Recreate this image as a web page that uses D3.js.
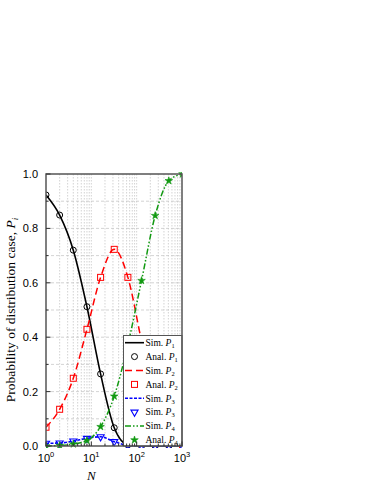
<!DOCTYPE html>
<html><head><meta charset="utf-8">
<script src="https://cdn.jsdelivr.net/npm/d3@7"></script>
<style>html,body{margin:0;padding:0;background:#fff;}svg{display:block;}</style>
</head><body>
<svg id="c" width="374" height="484"></svg>
<script>
const Nvals = [1, 2, 4, 8, 16, 32, 64, 128, 256, 512, 1024];
const P1 = [0.923, 0.849, 0.72, 0.512, 0.265, 0.067, 0.004, 0, 0, 0, 0];
const P2 = [0.069, 0.135, 0.249, 0.429, 0.62, 0.723, 0.62, 0.385, 0.152, 0.025, 0.0];
const P3 = [0.010, 0.011, 0.018, 0.028, 0.034, 0.016, 0.003, 0, 0, 0, 0];
const P4 = [0.0, 0.002, 0.007, 0.02, 0.071, 0.183, 0.373, 0.608, 0.847, 0.975, 1.0];
const yTicks = [0.0, 0.2, 0.4, 0.6, 0.8, 1.0];
const xDecades = [1, 10, 100, 1000];
const legendLabels = [["Sim. ", "1"], ["Anal. ", "1"], ["Sim. ", "2"], ["Anal. ", "2"], ["Sim. ", "3"], ["Sim. ", "3"], ["Sim. ", "4"], ["Anal. ", "4"]];

const svg = d3.select("#c");
const L = 46, R = 182, T = 174, B = 446;
const x = d3.scaleLog().domain([1, 1000]).range([L, R]);
const y = d3.scaleLinear().domain([0, 1]).range([B, T]);

// grid
const minorX = [];
for (let d = 1; d < 1000; d *= 10) for (let k = 1; k < 10; k++) minorX.push(d * k);
minorX.push(1000);
const g = svg.append("g");
g.selectAll("line.vx").data(minorX.filter(v => v > 1 && v < 1000)).enter().append("line")
  .attr("x1", d => x(d)).attr("x2", d => x(d)).attr("y1", T).attr("y2", B)
  .attr("stroke", "#c8c8c8").attr("stroke-width", 0.8).attr("stroke-dasharray", "1.5,1.5");
const hy = d3.range(1, 10).map(i => i / 10);
g.selectAll("line.hy").data(hy).enter().append("line")
  .attr("x1", L).attr("x2", R).attr("y1", d => y(d)).attr("y2", d => y(d))
  .attr("stroke", "#c8c8c8").attr("stroke-width", 0.8).attr("stroke-dasharray", "3,2");

// clip
svg.append("clipPath").attr("id", "pc").append("rect").attr("x", L).attr("y", T - 2).attr("width", R - L).attr("height", B - T + 4);
const plot = svg.append("g").attr("clip-path", "url(#pc)");

const series = [
  {v: P1, color: "#000", dash: null, w: 1.6, sym: "circle"},
  {v: P2, color: "#ff0000", dash: "7,4", w: 1.5, sym: "square"},
  {v: P3, color: "#0000ff", dash: "3,1.5", w: 1.6, sym: "tri"},
  {v: P4, color: "#119911", dash: "6,2,1.5,2,1.5,2", w: 1.5, sym: "star"}
];
const line = d3.line().x(d => x(d[0])).y(d => y(d[1])).curve(d3.curveMonotoneX);
series.forEach(s => {
  plot.append("path").datum(Nvals.map((n, i) => [n, s.v[i]]))
    .attr("d", line).attr("fill", "none").attr("stroke", s.color)
    .attr("stroke-width", s.w).attr("stroke-dasharray", s.dash);
});
function marker(sel, s, cx, cy) {
  if (s.sym === "circle") sel.append("circle").attr("cx", cx).attr("cy", cy).attr("r", 3).attr("fill", "none").attr("stroke", s.color).attr("stroke-width", 1);
  else if (s.sym === "square") sel.append("rect").attr("x", cx - 3).attr("y", cy - 3).attr("width", 6).attr("height", 6).attr("fill", "none").attr("stroke", s.color).attr("stroke-width", 1);
  else if (s.sym === "tri") sel.append("path").attr("d", d3.symbol(d3.symbolTriangle, 22)()).attr("transform", `translate(${cx},${cy}) rotate(180)`).attr("fill", "none").attr("stroke", s.color).attr("stroke-width", 1.1);
  else sel.append("path").attr("d", d3.symbol(d3.symbolStar, 18)()).attr("transform", `translate(${cx},${cy})`).attr("fill", s.color).attr("stroke", s.color).attr("stroke-width", 0.6);
}
series.forEach(s => {
  Nvals.forEach((n, i) => marker(plot, s, x(n), y(s.v[i])));
});

// legend
const lx = 123.5, ly = 335.5, lw = R - lx, lh = B - ly;
const leg = svg.append("g");
leg.append("rect").attr("x", lx).attr("y", ly).attr("width", lw).attr("height", lh).attr("fill", "#fff").attr("stroke", "#555").attr("stroke-width", 1);
legendLabels.forEach((lab, i) => {
  const cy = 342.7 + i * 13.9;
  const s = series[Math.floor(i / 2)];
  if (i % 2 === 0) {
    leg.append("line").attr("x1", 125).attr("x2", 144).attr("y1", cy).attr("y2", cy)
      .attr("stroke", s.color).attr("stroke-width", s.w).attr("stroke-dasharray", s.dash);
  } else {
    marker(leg, s, 134.5, cy);
  }
  const t = leg.append("text").attr("x", 145.5).attr("y", cy + 3.2)
    .attr("font-family", "'Liberation Serif', 'Times New Roman', serif").attr("font-size", 9.5).attr("fill", "#000");
  t.append("tspan").text(lab[0]);
  t.append("tspan").attr("font-style", "italic").text("P");
  t.append("tspan").attr("font-size", 6.5).attr("dy", 2).text(lab[1]);
});

// frame
svg.append("rect").attr("x", L).attr("y", T).attr("width", R - L).attr("height", B - T)
  .attr("fill", "none").attr("stroke", "#555").attr("stroke-width", 1.5);

// y ticks
const yt = svg.append("g");
d3.range(0, 11).forEach(i => {
  const v = i / 10, major = i % 2 === 0;
  yt.append("line").attr("x1", L).attr("x2", L + (major ? 4.5 : 2.5)).attr("y1", y(v)).attr("y2", y(v)).attr("stroke", "#333").attr("stroke-width", 1);
});
yTicks.forEach(v => {
  yt.append("text").attr("x", 38).attr("y", y(v) + 4).attr("text-anchor", "end")
    .attr("font-family", "'Liberation Sans', Arial, sans-serif").attr("font-size", 11).attr("fill", "#000").text(v.toFixed(1));
});
// x ticks
minorX.forEach(v => {
  const major = xDecades.includes(v);
  yt.append("line").attr("x1", x(v)).attr("x2", x(v)).attr("y1", B).attr("y2", B - (major ? 4.5 : 2.5)).attr("stroke", "#333").attr("stroke-width", 1);
});
xDecades.forEach((v, i) => {
  const t = yt.append("text").attr("x", x(v)).attr("y", 462).attr("text-anchor", "middle")
    .attr("font-family", "'Liberation Sans', Arial, sans-serif").attr("font-size", 11).attr("fill", "#000");
  t.append("tspan").text("10");
  t.append("tspan").attr("font-size", 7.5).attr("dy", -5).text(String(i));
});
svg.append("text").attr("x", x(10)).attr("y", 480).attr("text-anchor", "middle")
  .attr("font-family", "'Liberation Serif', 'Times New Roman', serif").attr("font-style", "italic").attr("font-size", 13).text("N");
const yl = svg.append("text").attr("transform", `translate(15,${(T + B) / 2}) rotate(-90)`).attr("text-anchor", "middle")
  .attr("font-family", "'Liberation Serif', 'Times New Roman', serif").attr("font-size", 13.5).attr("fill", "#000");
yl.append("tspan").text("Probability of distribution case,  ");
yl.append("tspan").attr("font-style", "italic").text("P");
yl.append("tspan").attr("font-style", "italic").attr("font-size", 9).attr("dy", 3).text("i");
</script>
</body></html>
